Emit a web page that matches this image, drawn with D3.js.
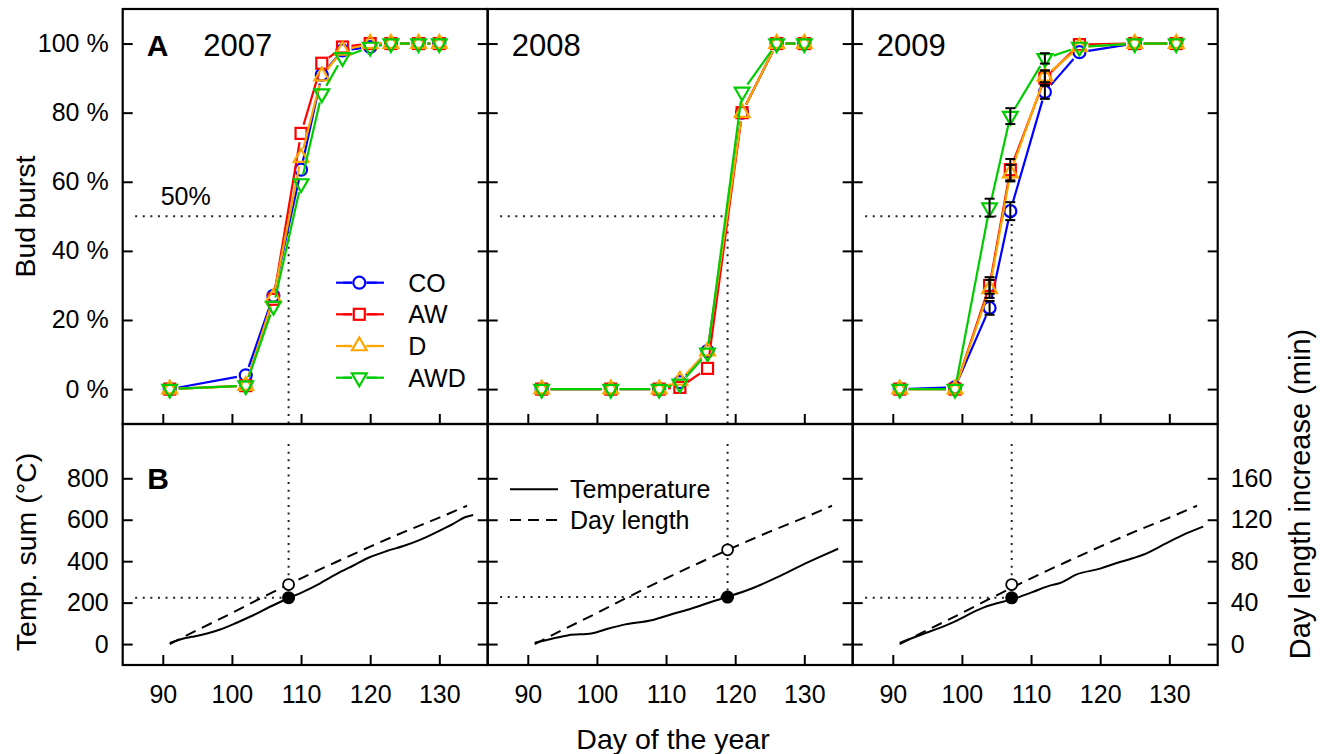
<!DOCTYPE html>
<html>
<head>
<meta charset="utf-8">
<script src="https://cdn.jsdelivr.net/npm/d3@7"></script>
<style>
  body { margin: 0; background: #fff; }
  text { font-family: "Liberation Sans", Arial, sans-serif; fill: #000; }
</style>
</head>
<body>
<div id="chart"></div>
<script>
// ---- data ----
const years = ["2007", "2008", "2009"];
const treatments = ["CO", "AW", "D", "AWD"];

// bud burst (%) per sampling day
const days2007 = [91, 102, 106, 110, 113, 116, 120, 123, 127, 130];
const co2007  = [0, 4, 27, 63.5, 91, 98, 99, 100, 100, 100];
const aw2007  = [0, 1, 26, 74, 94.3, 99, 100, 100, 100, 100];
const d2007   = [0, 1, 26.5, 67, 90.6, 98, 100, 100, 100, 100];
const awd2007 = [0, 1, 24, 59.5, 85.5, 96, 99, 100, 100, 100];

const days2008 = [92, 102, 109, 112, 116, 121, 126, 130];
const co2008  = [0, 0, 0, 2, 11, 80, 100, 100];
const aw2008  = [0, 0, 0, 0.5, 6, 80, 100, 100];
const d2008   = [0, 0, 0, 2.5, 11, 80, 100, 100];
const awd2008 = [0, 0, 0, 1.5, 10.5, 86, 100, 100];

const days2009 = [91, 99, 104, 107, 112, 117, 125, 131];
const co2009  = [0, 0.5, 23.5, 51.5, 86, 97.5, 100, 100];
const aw2009  = [0, 0, 30, 63.5, 90, 99.7, 100, 100];
const d2009   = [0, 0, 29, 62.5, 90.5, 99, 100, 100];
const awd2009 = [0, 0, 52.5, 79, 95.7, 99, 100, 100];

// standard errors (2009 only)
const coErr2009  = [0, 0, 2, 2.6, 2, 0, 0, 0];
const awErr2009  = [0, 0, 2.4, 3.1, 2.2, 0, 0, 0];
const dErr2009   = [0, 0, 2.6, 2.4, 1.7, 0, 0, 0];
const awdErr2009 = [0, 0, 2.6, 2.3, 1.5, 0, 0, 0];

// temperature sum (°C)
const tempDays2007 = [91, 93, 94.2, 96.4, 98.3, 100.7, 103.1, 105.5, 108.1, 110.3, 112.7, 115.1, 117.5, 120, 122.4, 124.8, 127.2, 129.6, 132, 133.7, 134.9];
const tempSum2007  = [6, 27, 35, 51, 70, 103, 139, 180, 220, 252, 292, 337, 378, 420, 449, 473, 503, 540, 580, 612, 623];
const tempDays2008 = [91, 93.5, 95.9, 99.2, 101.7, 104.1, 107.9, 110.8, 113.7, 116.6, 118.9, 122.4, 126.2, 129.6, 132, 134.9];
const tempSum2008  = [6, 26, 43, 51, 75, 95, 115, 144, 172, 204, 228, 268, 324, 380, 417, 460];
const tempDays2009 = [91, 93.5, 98.3, 103.1, 107.9, 110.3, 112.7, 114.2, 116.6, 120, 122.4, 124.8, 126.2, 129.6, 132, 134.9];
const tempSum2009  = [6, 38, 99, 176, 223, 252, 282, 295, 336, 364, 391, 415, 431, 487, 527, 567];

// day length increase (min)
const dayLenDays = [91, 95, 100, 105, 110, 115, 120, 125, 130, 134];
const dayLenMin  = [0, 13.5, 30, 47, 63.5, 79, 94, 108.5, 122, 133.5];

// 50 % bud burst markers
const burstDay    = [108.2, 118.9, 107.2];
const burstTemp   = [224, 227, 223];
const burstDayLen = [57.4, 91, 57.4];

const pctTicks = [0, 20, 40, 60, 80, 100];
const tempTicks = [0, 200, 400, 600, 800];
const dayLenTicks = [0, 40, 80, 120, 160];
const dayTicks = [90, 100, 110, 120, 130];

// ---- layout ----
const W = 1323, H = 754;
const panelW = 365;
const panelLeft = [122.7, 487.7, 852.7];
const yTopEdge = 9, yMid = 424, yBottom = 665;
const colors = ["#0000FF", "#FF0000", "#FFA500", "#00CC00"];
const font = '"Liberation Sans", Arial, sans-serif';

const panels = [
  { days: days2007, vals: [co2007, aw2007, d2007, awd2007], errs: null,
    tDays: tempDays2007, tSum: tempSum2007 },
  { days: days2008, vals: [co2008, aw2008, d2008, awd2008], errs: null,
    tDays: tempDays2008, tSum: tempSum2008 },
  { days: days2009, vals: [co2009, aw2009, d2009, awd2009],
    errs: [coErr2009, awErr2009, dErr2009, awdErr2009],
    tDays: tempDays2009, tSum: tempSum2009 }
];

const svg = d3.select("#chart").append("svg")
  .attr("width", W).attr("height", H)
  .style("background", "#fff");

const yTop = d3.scaleLinear().domain([-10.1, 110]).range([yMid, yTopEdge]);
const yBot = d3.scaleLinear().domain([-101, 1062]).range([yBottom, yMid]);
const yDL = d3.scaleLinear().domain([-101 / 5, 1062 / 5]).range([yBottom, yMid]);

// line with gaps around the points (R type = "b")
function gapLine(g, pts, color, gap) {
  for (let i = 0; i < pts.length - 1; i++) {
    const [x1, y1] = pts[i], [x2, y2] = pts[i + 1];
    const dx = x2 - x1, dy = y2 - y1, len = Math.hypot(dx, dy);
    if (len <= 2 * gap) continue;
    const ux = dx / len, uy = dy / len;
    g.append("line")
      .attr("x1", x1 + ux * gap).attr("y1", y1 + uy * gap)
      .attr("x2", x2 - ux * gap).attr("y2", y2 - uy * gap)
      .attr("stroke", color).attr("stroke-width", 2.2);
  }
}

function marker(g, shape, x, y, color) {
  const r = 8.5;
  if (shape === 0) {
    g.append("circle").attr("cx", x).attr("cy", y).attr("r", 6);
  } else if (shape === 1) {
    g.append("rect").attr("x", x - 5.5).attr("y", y - 5.5).attr("width", 11).attr("height", 11);
  } else if (shape === 2) {
    g.append("path").attr("d", `M${x},${y - r}L${x + r * 0.866},${y + r / 2}L${x - r * 0.866},${y + r / 2}Z`);
  } else {
    g.append("path").attr("d", `M${x},${y + r}L${x + r * 0.866},${y - r / 2}L${x - r * 0.866},${y - r / 2}Z`);
  }
  g.selectAll(":last-child").attr("fill", "none").attr("stroke", color).attr("stroke-width", 2.2);
}

function styleAxis(a) {
  a.select(".domain").remove();
  a.selectAll(".tick line").attr("stroke", "#000").attr("stroke-width", 2);
  a.attr("font-size", 25).attr("font-family", font);
  a.selectAll("text").attr("fill", "#000");
}

panels.forEach((p, i) => {
  const x0 = panelLeft[i];
  const x = d3.scaleLinear().domain([84.2, 137]).range([x0, x0 + panelW]);

  // ---------- top panel: bud burst ----------
  const gt = svg.append("g");

  // 50 % reference lines
  const dot = sel => sel.attr("stroke", "#222").attr("stroke-width", 2)
    .attr("stroke-dasharray", "2,5.6").attr("fill", "none");
  gt.append("line").call(dot)
    .attr("x1", x(86)).attr("x2", x(burstDay[i])).attr("y1", yTop(50)).attr("y2", yTop(50));
  gt.append("line").call(dot)
    .attr("x1", x(burstDay[i])).attr("x2", x(burstDay[i])).attr("y1", yTop(50)).attr("y2", yMid);

  p.vals.forEach((vals, s) => {
    const pts = p.days.map((d, k) => [x(d), yTop(vals[k])]);
    const gs = gt.append("g");
    gapLine(gs, pts, colors[s], 9);
    pts.forEach(([px, py]) => marker(gs, s, px, py, colors[s]));
  });

  if (p.errs) {
    const ge = gt.append("g").attr("stroke", "#000").attr("stroke-width", 2);
    p.errs.forEach((errs, s) => {
      p.days.forEach((d, k) => {
        if (!errs[k]) return;
        const cx = x(d), ya = yTop(p.vals[s][k] + errs[k]), yb = yTop(p.vals[s][k] - errs[k]);
        ge.append("line").attr("x1", cx).attr("x2", cx).attr("y1", ya).attr("y2", yb);
        ge.append("line").attr("x1", cx - 5).attr("x2", cx + 5).attr("y1", ya).attr("y2", ya);
        ge.append("line").attr("x1", cx - 5).attr("x2", cx + 5).attr("y1", yb).attr("y2", yb);
      });
    });
  }

  // axes (inward ticks)
  const aL = svg.append("g").attr("transform", `translate(${x0},0)`)
    .call(d3.axisLeft(yTop).tickValues(pctTicks).tickSize(-10).tickPadding(14)
      .tickFormat(d => i === 0 ? d + " %" : ""));
  styleAxis(aL);
  const aR = svg.append("g").attr("transform", `translate(${x0 + panelW},0)`)
    .call(d3.axisRight(yTop).tickValues(pctTicks).tickSize(-10).tickFormat(""));
  styleAxis(aR);
  const aB = svg.append("g").attr("transform", `translate(0,${yMid})`)
    .call(d3.axisBottom(x).tickValues(dayTicks).tickSize(-10).tickFormat(""));
  styleAxis(aB);

  gt.append("text").attr("x", x0 + (i === 0 ? 80.6 : 24)).attr("y", 56)
    .attr("font-size", 31).text(years[i]);

  // ---------- bottom panel: temperature sum & day length ----------
  const gb = svg.append("g");
  gb.append("line").call(dot)
    .attr("x1", x(burstDay[i])).attr("x2", x(burstDay[i])).attr("y1", yBot(965)).attr("y2", yBot(burstTemp[i]));
  gb.append("line").call(dot)
    .attr("x1", x(86)).attr("x2", x(burstDay[i])).attr("y1", yBot(burstTemp[i])).attr("y2", yBot(burstTemp[i]));

  const tLine = d3.line().x(d => x(d[0])).y(d => yBot(d[1])).curve(d3.curveMonotoneX);
  const dLine = d3.line().x(d => x(d[0])).y(d => yDL(d[1])).curve(d3.curveMonotoneX);

  gb.append("path").datum(dayLenDays.map((d, k) => [d, dayLenMin[k]]))
    .attr("d", dLine).attr("fill", "none").attr("stroke", "#000")
    .attr("stroke-width", 2).attr("stroke-dasharray", "11,7");
  gb.append("path").datum(p.tDays.map((d, k) => [d, p.tSum[k]]))
    .attr("d", tLine).attr("fill", "none").attr("stroke", "#000").attr("stroke-width", 2);

  gb.append("circle").attr("cx", x(burstDay[i])).attr("cy", yDL(burstDayLen[i])).attr("r", 5.5)
    .attr("fill", "#fff").attr("stroke", "#000").attr("stroke-width", 1.8);
  gb.append("circle").attr("cx", x(burstDay[i])).attr("cy", yBot(burstTemp[i])).attr("r", 6.5)
    .attr("fill", "#000");

  const bL = svg.append("g").attr("transform", `translate(${x0},0)`)
    .call(d3.axisLeft(yBot).tickValues(tempTicks).tickSize(-10).tickPadding(14)
      .tickFormat(d => i === 0 ? d : ""));
  styleAxis(bL);
  const bR = svg.append("g").attr("transform", `translate(${x0 + panelW},0)`)
    .call(d3.axisRight(yDL).tickValues(dayLenTicks).tickSize(-10).tickPadding(13)
      .tickFormat(d => i === 2 ? d : ""));
  styleAxis(bR);
  const bB = svg.append("g").attr("transform", `translate(0,${yBottom})`)
    .call(d3.axisBottom(x).tickValues(dayTicks).tickSize(-10).tickPadding(20));
  styleAxis(bB);

  // panel frames
  svg.append("rect").attr("x", x0).attr("y", yTopEdge).attr("width", panelW).attr("height", yMid - yTopEdge)
    .attr("fill", "none").attr("stroke", "#000").attr("stroke-width", 2.2);
  svg.append("rect").attr("x", x0).attr("y", yMid).attr("width", panelW).attr("height", yBottom - yMid)
    .attr("fill", "none").attr("stroke", "#000").attr("stroke-width", 2.2);
});

// panel letters and labels
svg.append("text").attr("x", 146.7).attr("y", 56).attr("font-size", 30).attr("font-weight", "bold").text("A");
svg.append("text").attr("x", 147.3).attr("y", 489).attr("font-size", 30).attr("font-weight", "bold").text("B");
svg.append("text").attr("x", 160.7).attr("y", 205).attr("font-size", 25).text("50%");

// treatment legend
const legY = [282.7, 314.3, 346, 377.7];
const lg = svg.append("g");
treatments.forEach((t, s) => {
  gapLine(lg, [[336, legY[s]], [359.3, legY[s]], [384, legY[s]]], colors[s], 7);
  lg.append("line").attr("x1", 336).attr("x2", 352).attr("y1", legY[s]).attr("y2", legY[s])
    .attr("stroke", colors[s]).attr("stroke-width", 2.2);
  lg.append("line").attr("x1", 367).attr("x2", 384).attr("y1", legY[s]).attr("y2", legY[s])
    .attr("stroke", colors[s]).attr("stroke-width", 2.2);
  marker(lg, s, 359.3, legY[s], colors[s]);
  lg.append("text").attr("x", 408.3).attr("y", legY[s] + 9).attr("font-size", 25).text(t);
});

// line legend (bottom, 2008)
svg.append("line").attr("x1", 510).attr("x2", 558).attr("y1", 489.3).attr("y2", 489.3)
  .attr("stroke", "#000").attr("stroke-width", 2);
svg.append("line").attr("x1", 510).attr("x2", 558).attr("y1", 520).attr("y2", 520)
  .attr("stroke", "#000").attr("stroke-width", 2).attr("stroke-dasharray", "11,7");
svg.append("text").attr("x", 570).attr("y", 498.3).attr("font-size", 25).text("Temperature");
svg.append("text").attr("x", 570).attr("y", 529).attr("font-size", 25).text("Day length");

// axis titles
svg.append("text").attr("transform", "translate(35,216.5) rotate(-90)")
  .attr("text-anchor", "middle").attr("font-size", 28.5).text("Bud burst");
svg.append("text").attr("transform", "translate(36,552) rotate(-90)")
  .attr("text-anchor", "middle").attr("font-size", 28.5).text("Temp. sum (°C)");
svg.append("text").attr("transform", "translate(1310,494) rotate(-90)")
  .attr("text-anchor", "middle").attr("font-size", 29).text("Day length increase (min)");
svg.append("text").attr("x", 673).attr("y", 749)
  .attr("text-anchor", "middle").attr("font-size", 28.5).text("Day of the year");
</script>
</body>
</html>
